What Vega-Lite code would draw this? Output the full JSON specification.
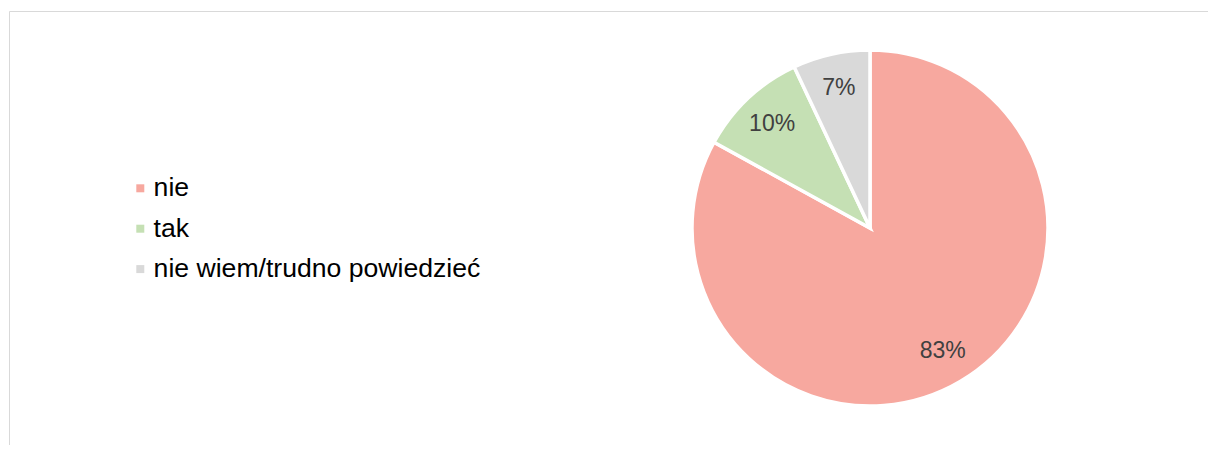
{
  "$schema": "https://vega.github.io/schema/vega-lite/v6.json",
  "width": 1722,
  "height": 434,
  "padding": {"left": 9, "top": 11, "right": 0, "bottom": 0},
  "background": "white",
  "view": {"stroke": "#d9d9d9", "strokeWidth": 1, "fill": "white"},
  "config": {
    "font": "Liberation Sans"
  },
  "data": {
    "values": [
      {"kategoria": "nie", "udzial": 0.83, "kolejnosc": 1},
      {"kategoria": "tak", "udzial": 0.10, "kolejnosc": 2},
      {"kategoria": "nie wiem/trudno powiedzieć", "udzial": 0.07, "kolejnosc": 3}
    ]
  },
  "encoding": {
    "theta": {"field": "udzial", "type": "quantitative", "stack": true},
    "order": {"field": "kolejnosc", "type": "quantitative"}
  },
  "layer": [
    {
      "mark": {"type": "arc", "outerRadius": 178, "stroke": "white", "strokeWidth": 3.5},
      "encoding": {
        "color": {
          "field": "kategoria",
          "type": "nominal",
          "scale": {
            "domain": ["nie", "tak", "nie wiem/trudno powiedzieć"],
            "range": ["#f7a89f", "#c5e0b4", "#d9d9d9"]
          },
          "legend": {
            "orient": "none",
            "legendX": 118,
            "legendY": 164,
            "title": null,
            "symbolType": "square",
            "symbolSize": 64,
            "symbolStrokeWidth": 0,
            "labelFontSize": 26.6,
            "labelFont": "Liberation Sans",
            "labelColor": "#000000",
            "labelOffset": 0,
            "labelLimit": 0,
            "rowPadding": 13.4,
            "padding": 0
          }
        }
      }
    },
    {
      "mark": {"type": "text", "radius": 143, "fontSize": 23, "color": "#404040", "font": "Liberation Sans"},
      "encoding": {
        "text": {"field": "udzial", "type": "quantitative", "format": ".0%"}
      }
    }
  ]
}
